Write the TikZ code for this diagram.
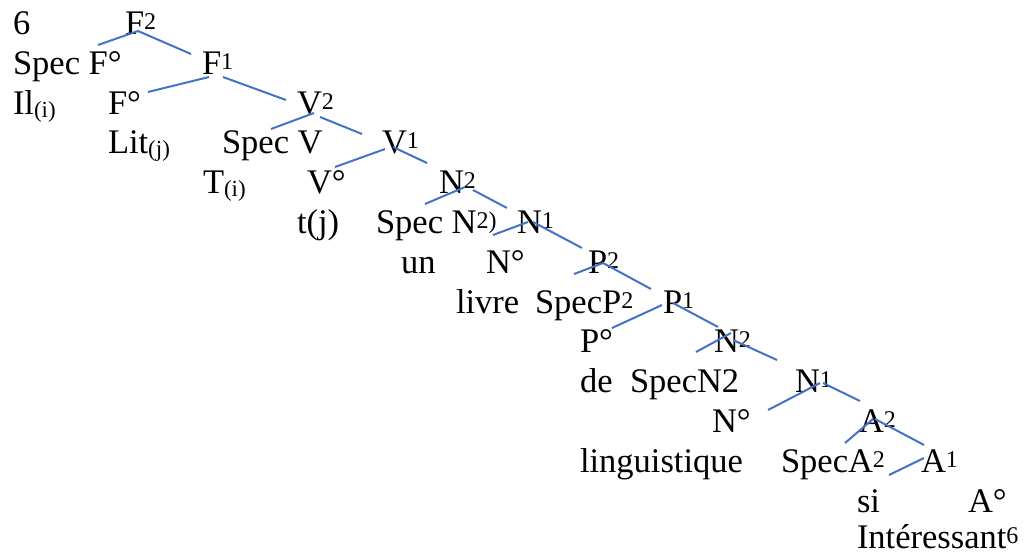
\documentclass[tikz,border=0pt]{standalone}
\usepackage{fontspec}
\setmainfont{Liberation Serif}
\definecolor{lineblue}{HTML}{4472C4}
\tikzset{
  lbl/.style={anchor=base west, inner sep=0pt, outer sep=0pt, font=\fontsize{34.5}{40}\selectfont},
  br/.style={draw=lineblue, line width=2pt}
}
\newcommand{\dg}{°}
\newcommand{\supr}[1]{\raisebox{5pt}{\fontsize{24}{24}\selectfont #1}}
\newcommand{\subr}[1]{\raisebox{-3pt}{\fontsize{23}{23}\selectfont #1}}
\begin{document}
\begin{tikzpicture}[x=1pt,y=-1pt]
\useasboundingbox (0,0) rectangle (1025,554);
% row baselines
\def\rA{34}\def\rB{74}\def\rC{114}\def\rD{153}\def\rE{193}\def\rF{233}\def\rG{273}
\def\rH{313}\def\rI{352}\def\rJ{392}\def\rK{432}\def\rL{472}\def\rM{512}\def\rN{548}
\node[lbl] (n6) at (13,\rA) {6};
\node[lbl] (F2) at (125,\rA) {F\supr{2}};
\node[lbl] (SpecF) at (13,\rB) {Spec F\dg};
\node[lbl] (F1) at (202,\rB) {F\supr{1}};
\node[lbl] (Il) at (13,\rC) {Il\subr{(i)}};
\node[lbl] (F0) at (108,\rC) {F\dg};
\node[lbl] (V2) at (297,\rC) {V\supr{2}};
\node[lbl] (Lit) at (108,\rD) {Lit\subr{(j)}};
\node[lbl] (SpecV) at (222,\rD) {Spec V};
\node[lbl] (V1) at (382,\rD) {V\supr{1}};
\node[lbl] (Ti) at (203,\rE) {T\subr{(i)}};
\node[lbl] (V0) at (307,\rE) {V\dg};
\node[lbl] (N2a) at (439,\rE) {N\supr{2}};
\node[lbl] (tj) at (297,\rF) {t(j)};
\node[lbl] (SpecN) at (376,\rF) {Spec N\supr{2)}};
\node[lbl] (N1a) at (517,\rF) {N\supr{1}};
\node[lbl] (un) at (401,\rG) {un};
\node[lbl] (N0a) at (486,\rG) {N\dg};
\node[lbl] (P2) at (588,\rG) {P\supr{2}};
\node[lbl] (livre) at (456,\rH) {livre};
\node[lbl] (SpecP) at (535,\rH) {SpecP\supr{2}};
\node[lbl] (P1) at (663,\rH) {P\supr{1}};
\node[lbl] (P0) at (580,\rI) {P\dg};
\node[lbl] (N2b) at (714,\rI) {N\supr{2}};
\node[lbl] (de) at (580,\rJ) {de};
\node[lbl] (SpecNb) at (630,\rJ) {SpecN2};
\node[lbl] (N1b) at (795,\rJ) {N\supr{1}};
\node[lbl] (N0b) at (712,\rK) {N\dg};
\node[lbl] (A2) at (859,\rK) {A\supr{2}};
\node[lbl] (ling) at (580,\rL) {linguistique};
\node[lbl] (SpecA) at (781,\rL) {SpecA\supr{2}};
\node[lbl] (A1) at (921,\rL) {A\supr{1}};
\node[lbl] (si) at (857,\rM) {si};
\node[lbl] (A0) at (968,\rM) {A\dg};
\node[lbl] (inter) at (857,\rN) {Intéressant\supr{6}};
% branch end points
\coordinate (a1) at (98,45);   \coordinate (b1) at (138,31);
\coordinate (a2) at (138,31);  \coordinate (b2) at (191,54);
\coordinate (a3) at (148,92);  \coordinate (b3) at (209,77);
\coordinate (a4) at (223,77);  \coordinate (b4) at (286,100);
\coordinate (a5) at (271,129); \coordinate (b5) at (314,113);
\coordinate (a6) at (320,117); \coordinate (b6) at (362,134);
\coordinate (a7) at (335,167); \coordinate (b7) at (385,149);
\coordinate (a8) at (393,147); \coordinate (b8) at (427,163);
\coordinate (a9) at (425,204); \coordinate (b9) at (465,187);
\coordinate (a10) at (473,190); \coordinate (b10) at (507,208);
\coordinate (a11) at (493,235); \coordinate (b11) at (528,222);
\coordinate (a12) at (533,222); \coordinate (b12) at (582,248);
\coordinate (a13) at (574,274); \coordinate (b13) at (603,263);
\coordinate (a14) at (603,263); \coordinate (b14) at (651,289);
\coordinate (a15) at (612,328); \coordinate (b15) at (662,305);
\coordinate (a16) at (673,303); \coordinate (b16) at (718,327);
\coordinate (a17) at (696,352); \coordinate (b17) at (731,333);
\coordinate (a18) at (733,340); \coordinate (b18) at (777,360);
\coordinate (a19) at (768,410); \coordinate (b19) at (820,383);
\coordinate (a20) at (823,383); \coordinate (b20) at (860,401);
\coordinate (a21) at (845,443); \coordinate (b21) at (873,419);
\coordinate (a22) at (875,419); \coordinate (b22) at (924,445);
\coordinate (a23) at (889,475); \coordinate (b23) at (924,458);
\foreach \i in {1,...,23} { \draw[br] (a\i) -- (b\i); }
\end{tikzpicture}
\end{document}
